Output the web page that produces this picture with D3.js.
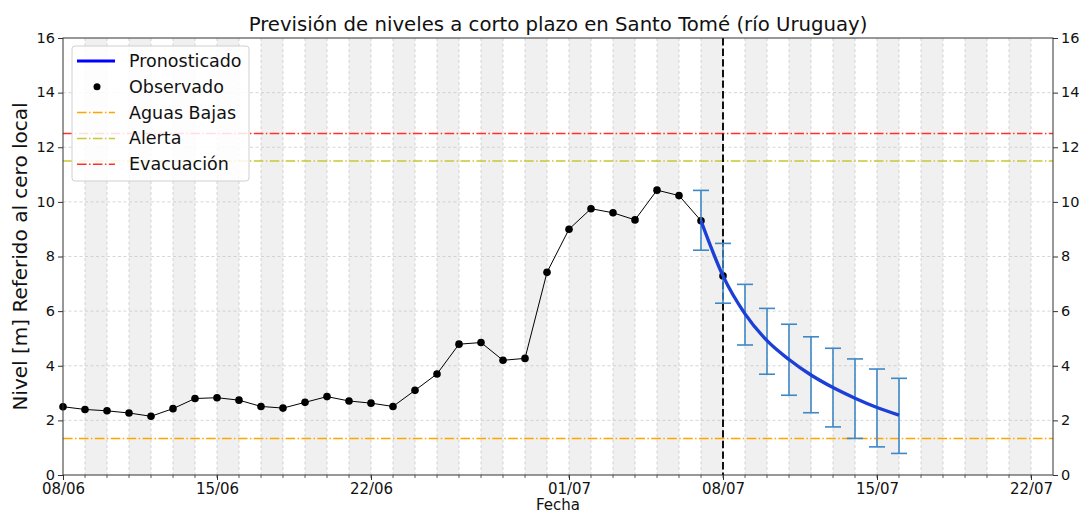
<!DOCTYPE html>
<html>
<head>
<meta charset="utf-8">
<script src="https://cdn.jsdelivr.net/npm/d3@7"></script>
<style>
  body { margin: 0; background: #fff; }
  svg { display: block; font-family: "DejaVu Sans", sans-serif; }
</style>
</head>
<body>
<svg id="chart" width="1085" height="514"></svg>
<script>
// ---- data ----
const obsDates = ["2024-06-08","2024-06-09","2024-06-10","2024-06-11","2024-06-12","2024-06-13","2024-06-14","2024-06-15","2024-06-16","2024-06-17","2024-06-18","2024-06-19","2024-06-20","2024-06-21","2024-06-22","2024-06-23","2024-06-24","2024-06-25","2024-06-26","2024-06-27","2024-06-28","2024-06-29","2024-06-30","2024-07-01","2024-07-02","2024-07-03","2024-07-04","2024-07-05","2024-07-06","2024-07-07","2024-07-08"];
const obsValues = [2.5,2.4,2.35,2.27,2.15,2.43,2.8,2.83,2.74,2.51,2.45,2.66,2.87,2.71,2.63,2.51,3.1,3.7,4.79,4.85,4.2,4.27,7.42,9.0,9.75,9.6,9.34,10.43,10.23,9.31,7.29];
const fcDates = ["2024-07-07","2024-07-08","2024-07-09","2024-07-10","2024-07-11","2024-07-12","2024-07-13","2024-07-14","2024-07-15","2024-07-16"];
const fcValues = [9.31,7.29,5.9,4.92,4.23,3.66,3.2,2.81,2.47,2.19];
const fcUpper  = [10.42,8.48,6.98,6.1,5.52,5.06,4.64,4.25,3.88,3.54];
const fcLower  = [8.23,6.29,4.76,3.69,2.92,2.28,1.76,1.34,1.03,0.79];
const xTickDates  = ["2024-06-08","2024-06-15","2024-06-22","2024-07-01","2024-07-08","2024-07-15","2024-07-22"];
const xTickLabels = ["08/06","15/06","22/06","01/07","08/07","15/07","22/07"];
const yTicks = [0,2,4,6,8,10,12,14,16];
const thresholdNames  = ["Aguas Bajas","Alerta","Evacuación"];
const thresholdValues = [1.34,11.5,12.5];
const thresholdColors = ["#ffa500","#c8c832","#ff3030"];
const nowDate = "2024-07-08";
const xStart = "2024-06-08", xEnd = "2024-07-23";

// ---- layout ----
const svg = d3.select("#chart");
const m = {l: 63, r: 1053, t: 38, b: 475};
const P = d => new Date(d + "T00:00:00Z");
const x = d3.scaleUtc().domain([P(xStart), P(xEnd)]).range([m.l, m.r]);
const y = d3.scaleLinear().domain([0, 16]).range([m.b, m.t]);

const days = d3.utcDay.range(P(xStart), P(xEnd));
// shading bands (alternate days)
svg.append("g").selectAll("rect")
  .data(days.filter((d, i) => i % 2 === 1))
  .join("rect")
  .attr("x", d => x(d)).attr("y", m.t)
  .attr("width", d => x(d3.utcDay.offset(d, 1)) - x(d))
  .attr("height", m.b - m.t)
  .attr("fill", "#f0f0f0");

// grids
const grid = svg.append("g").attr("stroke", "#c4c4c4").attr("stroke-width", 0.8).attr("stroke-dasharray", "3,2.5").attr("opacity", 0.85);
grid.selectAll("line.v").data(days.slice(1)).join("line").attr("class","v")
  .attr("x1", d => x(d)).attr("x2", d => x(d)).attr("y1", m.t).attr("y2", m.b);
grid.selectAll("line.h").data(yTicks.slice(1, -1)).join("line").attr("class","h")
  .attr("x1", m.l).attr("x2", m.r).attr("y1", d => y(d)).attr("y2", d => y(d));

// thresholds
const dashDot = "9.6,2.4,1.5,2.4";
svg.append("g").selectAll("line").data(thresholdValues).join("line")
  .attr("x1", m.l).attr("x2", m.r)
  .attr("y1", d => y(d)).attr("y2", d => y(d))
  .attr("stroke", (d, i) => thresholdColors[i])
  .attr("stroke-width", 1.5)
  .attr("stroke-dasharray", dashDot);

// now line
svg.append("line")
  .attr("x1", x(P(nowDate))).attr("x2", x(P(nowDate)))
  .attr("y1", m.t).attr("y2", m.b)
  .attr("stroke", "#111").attr("stroke-width", 2).attr("stroke-dasharray", "7.4,3.2");

// observed
const obs = obsDates.map((d, i) => ({d: P(d), v: obsValues[i]}));
svg.append("path").datum(obs)
  .attr("fill", "none").attr("stroke", "#000").attr("stroke-width", 1)
  .attr("d", d3.line().x(p => x(p.d)).y(p => y(p.v)));
svg.append("g").selectAll("circle").data(obs).join("circle")
  .attr("cx", p => x(p.d)).attr("cy", p => y(p.v)).attr("r", 3.8).attr("fill", "#000");

// error bars
const fc = fcDates.map((d, i) => ({d: P(d), v: fcValues[i], hi: fcUpper[i], lo: fcLower[i]}));
const eb = svg.append("g").attr("stroke", "#3f88c5").attr("stroke-width", 1.6);
fc.forEach(p => {
  const cx = x(p.d);
  eb.append("line").attr("x1", cx).attr("x2", cx).attr("y1", y(p.hi)).attr("y2", y(p.lo));
  eb.append("line").attr("x1", cx - 8).attr("x2", cx + 8).attr("y1", y(p.hi)).attr("y2", y(p.hi));
  eb.append("line").attr("x1", cx - 8).attr("x2", cx + 8).attr("y1", y(p.lo)).attr("y2", y(p.lo));
});
// forecast line
svg.append("path").datum(fc)
  .attr("fill", "none").attr("stroke", "#1c40d6").attr("stroke-width", 3.4)
  .attr("stroke-linejoin", "round")
  .attr("d", d3.line().x(p => x(p.d)).y(p => y(p.v)).curve(d3.curveMonotoneX));

// axes
const xAxis = d3.axisBottom(x).tickValues(xTickDates.map(P)).tickFormat((d, i) => xTickLabels[i]).tickSize(5).tickPadding(3);
const gx = svg.append("g").attr("transform", `translate(0,${m.b})`).call(xAxis);
svg.append("g").selectAll("line").data(days.slice(1)).join("line")
  .attr("x1", d => x(d)).attr("x2", d => x(d)).attr("y1", m.b).attr("y2", m.b + 3)
  .attr("stroke", "#333").attr("stroke-width", 0.8);
const yl = svg.append("g").attr("transform", `translate(${m.l},0)`).call(d3.axisLeft(y).tickValues(yTicks).tickSize(5).tickPadding(3));
const yr = svg.append("g").attr("transform", `translate(${m.r},0)`).call(d3.axisRight(y).tickValues(yTicks).tickSize(5).tickPadding(3));
[gx, yl, yr].forEach(g => {
  g.select(".domain").remove();
  g.selectAll("text").attr("font-size", 15).attr("fill", "#111").attr("font-family", "DejaVu Sans");
  g.selectAll(".tick line").attr("stroke", "#333");
});
[yl, yr].forEach(g => g.selectAll("text").attr("font-size", 14.5).attr("dy", "0.3em"));
svg.append("rect").attr("x", m.l).attr("y", m.t).attr("width", m.r - m.l).attr("height", m.b - m.t)
  .attr("fill", "none").attr("stroke", "#333").attr("stroke-width", 1);

// titles
svg.append("text").attr("x", (m.l + m.r) / 2).attr("y", 31).attr("text-anchor", "middle")
  .attr("font-size", 19.7).attr("fill", "#111").text("Previsión de niveles a corto plazo en Santo Tomé (río Uruguay)");
svg.append("text").attr("x", (m.l + m.r) / 2).attr("y", 510).attr("text-anchor", "middle")
  .attr("font-size", 15).attr("fill", "#111").text("Fecha");
svg.append("text").attr("transform", `translate(27,${(m.t + m.b) / 2}) rotate(-90)`).attr("text-anchor", "middle")
  .attr("font-size", 20).attr("fill", "#111").text("Nivel [m] Referido al cero local");

// legend
const lg = svg.append("g");
lg.append("rect").attr("x", 72).attr("y", 46).attr("width", 177).attr("height", 135).attr("rx", 3)
  .attr("fill", "#fff").attr("fill-opacity", 0.85).attr("stroke", "#d0d0d0");
const legendNames = ["Pronosticado", "Observado"].concat(thresholdNames);
legendNames.forEach((name, i) => {
  const ly = 61 + i * 25.8;
  if (i === 0) {
    lg.append("line").attr("x1", 77).attr("x2", 115).attr("y1", ly).attr("y2", ly).attr("stroke", "#0000ff").attr("stroke-width", 3);
  } else if (i === 1) {
    lg.append("circle").attr("cx", 97).attr("cy", ly).attr("r", 3.5).attr("fill", "#000");
  } else {
    lg.append("line").attr("x1", 77).attr("x2", 115).attr("y1", ly).attr("y2", ly)
      .attr("stroke", thresholdColors[i - 2]).attr("stroke-width", 1.5).attr("stroke-dasharray", dashDot);
  }
  lg.append("text").attr("x", 129).attr("y", ly + 6).attr("font-size", 17.5).attr("fill", "#111").text(name);
});
</script>
</body>
</html>
